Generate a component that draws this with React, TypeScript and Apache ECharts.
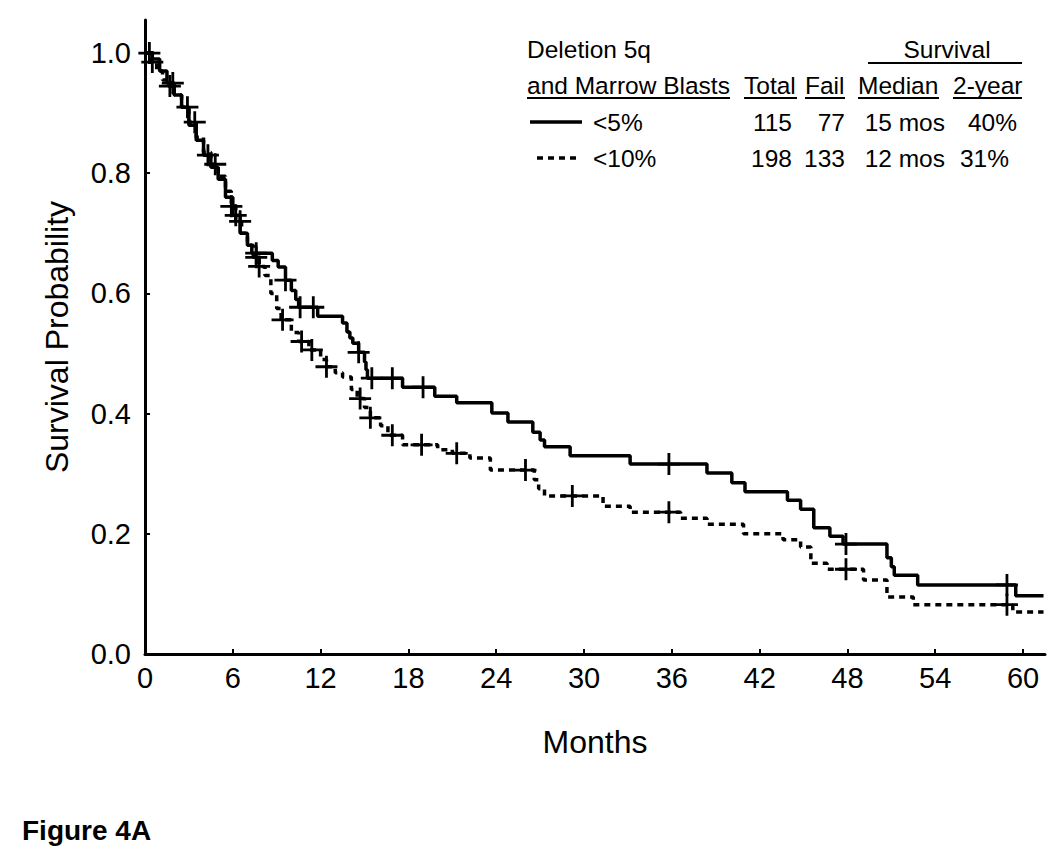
import React, { useEffect, useRef } from "react";
import * as echarts from "echarts";

// ---- Data ----
const xTicks = [0, 6, 12, 18, 24, 30, 36, 42, 48, 54, 60];
const yTicks = [0, 0.2, 0.4, 0.6, 0.8, 1.0];

// Kaplan-Meier curve, deletion 5q and marrow blasts <5% (solid)
const solidT = [0, 0.5, 1.0, 1.5, 2.0, 2.5, 3.0, 3.5, 4.0, 4.5, 5.0, 5.5, 6.0, 6.5, 7.0, 7.3, 8.7, 9.1, 9.6, 10.0, 10.3, 10.5, 11.8, 13.5, 13.8, 14.0, 14.2, 14.6, 15.0, 15.1, 15.2, 17.6, 19.8, 21.3, 23.7, 24.8, 26.5, 27.0, 27.3, 29.05, 33.15, 38.4, 40.1, 41.0, 43.9, 44.8, 45.7, 46.8, 47.7, 50.7, 51.0, 51.2, 52.8, 59.5, 61.4];
const solidS = [1.0, 0.99, 0.97, 0.95, 0.93, 0.91, 0.88, 0.855, 0.83, 0.81, 0.79, 0.76, 0.73, 0.70, 0.68, 0.667, 0.655, 0.644, 0.622, 0.605, 0.59, 0.577, 0.562, 0.551, 0.536, 0.526, 0.517, 0.502, 0.486, 0.473, 0.459, 0.444, 0.429, 0.418, 0.401, 0.386, 0.369, 0.356, 0.345, 0.33, 0.316, 0.301, 0.285, 0.27, 0.256, 0.241, 0.21, 0.196, 0.183, 0.16, 0.145, 0.131, 0.115, 0.097, 0.097];
const solidCensored = [0.3, 1.9, 4.3, 6.2, 7.6, 9.6, 10.6, 11.5, 14.6, 15.5, 16.9, 19.0, 35.8, 47.9, 58.9];

// Kaplan-Meier curve, deletion 5q and marrow blasts <10% (dotted)
const dottedT = [0, 0.4, 0.8, 1.2, 1.6, 2.0, 2.5, 3.0, 3.5, 4.0, 4.5, 5.0, 5.5, 5.9, 6.2, 6.6, 7.0, 7.4, 7.8, 8.2, 8.6, 9.0, 9.3, 10.0, 10.5, 11.2, 12.0, 12.4, 13.0, 13.5, 14.1, 14.5, 15.0, 15.4, 16.1, 16.6, 17.6, 20.0, 21.0, 22.2, 23.6, 26.6, 26.9, 27.3, 31.3, 33.15, 36.6, 38.4, 40.9, 43.6, 44.8, 45.5, 46.6, 49.1, 50.7, 52.5, 59.3, 61.4];
const dottedS = [1.0, 0.985, 0.97, 0.955, 0.945, 0.93, 0.91, 0.885, 0.86, 0.835, 0.815, 0.795, 0.77, 0.745, 0.72, 0.70, 0.68, 0.66, 0.645, 0.63, 0.60, 0.575, 0.556, 0.535, 0.52, 0.506, 0.49, 0.478, 0.468, 0.461, 0.44, 0.425, 0.41, 0.393, 0.38, 0.364, 0.348, 0.34, 0.334, 0.326, 0.306, 0.29, 0.275, 0.263, 0.246, 0.236, 0.226, 0.216, 0.2, 0.19, 0.178, 0.151, 0.141, 0.123, 0.095, 0.082, 0.07, 0.07];
const dottedCensored = [0.5, 1.7, 2.9, 3.4, 4.8, 5.9, 6.5, 7.6, 7.8, 9.4, 10.7, 11.4, 12.4, 14.7, 15.4, 16.9, 18.9, 21.3, 26.0, 29.2, 35.8, 47.9, 58.9];

// Legend table
const groupLabels = ["<5%", "<10%"];
const totals = ["115", "198"];
const fails = ["77", "133"];
const medians = ["15 mos", "12 mos"];
const twoYear = ["40%", "31%"];

const FONT = "'Liberation Sans', Arial, Helvetica, sans-serif";
const CROSS = "path://M9.6,0H12.4V9.6H22V12.4H12.4V22H9.6V12.4H0V9.6H9.6Z";

function stepValue(T: number[], S: number[], t: number) {
  let v = S[0];
  for (let i = 0; i < T.length; i++) {
    if (T[i] <= t) v = S[i];
  }
  return v;
}

export default function App() {
  const ref = useRef<HTMLDivElement>(null);

  useEffect(() => {
    if (!ref.current) return;
    const chart = echarts.init(ref.current, undefined, { renderer: "svg" });

    const txt = (text: string, x: number, y: number, align: string, extra: any = {}) => ({
      type: "text",
      x,
      y,
      style: {
        text,
        font: `24.5px ${FONT}`,
        fill: "#000",
        textAlign: align,
        align,
        textVerticalAlign: "middle",
        verticalAlign: "middle",
        ...extra,
      },
    });
    const hline = (x1: number, x2: number, y: number, w = 2, dash: any = null) => ({
      type: "line",
      shape: { x1, y1: y, x2, y2: y },
      style: { stroke: "#000", lineWidth: w, lineDash: dash },
    });

    const rowY = [122, 158];
    const graphic: any[] = [
      txt("Deletion 5q", 527, 49, "left"),
      txt("Survival", 947, 49, "center"),
      hline(868, 1022, 63),
      txt("and Marrow Blasts", 527, 85, "left"),
      txt("Total", 744, 85, "left"),
      txt("Fail", 805, 85, "left"),
      txt("Median", 858, 85, "left"),
      txt("2-year", 953, 85, "left"),
      hline(527, 730, 98),
      hline(744, 797, 98),
      hline(805, 845, 98),
      hline(858, 939, 98),
      hline(953, 1022, 98),
      hline(530, 582, rowY[0], 3.5),
      hline(537, 581, rowY[1], 3.5, [6, 5]),
      {
        type: "text",
        x: 22,
        y: 830,
        style: {
          text: "Figure 4A",
          font: `bold 28px ${FONT}`,
          fill: "#000",
          textAlign: "left",
          align: "left",
          textVerticalAlign: "middle",
          verticalAlign: "middle",
        },
      },
    ];
    const pctRight = [1017, 1009];
    for (let i = 0; i < 2; i++) {
      graphic.push(txt(groupLabels[i], 593, rowY[i], "left"));
      graphic.push(txt(totals[i], 792, rowY[i], "right"));
      graphic.push(txt(fails[i], 845, rowY[i], "right"));
      graphic.push(txt(medians[i], 945, rowY[i], "right"));
      graphic.push(txt(twoYear[i], pctRight[i], rowY[i], "right"));
    }

    const axisText = { color: "#000", fontSize: 29, fontFamily: FONT };

    chart.setOption({
      animation: false,
      backgroundColor: "#fff",
      grid: { left: 145, right: 5, top: 20, bottom: 194 },
      xAxis: {
        type: "value",
        min: 0,
        max: 61.5,
        name: "Months",
        nameLocation: "middle",
        nameGap: 72,
        nameTextStyle: { color: "#000", fontSize: 32, fontFamily: FONT },
        axisLine: { lineStyle: { color: "#000", width: 3 } },
        axisTick: { inside: true, length: 5, lineStyle: { color: "#000", width: 2 }, customValues: xTicks },
        axisLabel: { ...axisText, margin: 9, customValues: xTicks },
        splitLine: { show: false },
      },
      yAxis: {
        type: "value",
        min: 0,
        max: 1.055,
        name: "Survival Probability",
        nameLocation: "middle",
        nameRotate: 90,
        nameGap: 72,
        nameTextStyle: { color: "#000", fontSize: 32, fontFamily: FONT },
        axisLine: { lineStyle: { color: "#000", width: 3 } },
        axisTick: { inside: true, length: 5, lineStyle: { color: "#000", width: 2 }, customValues: yTicks },
        axisLabel: { ...axisText, margin: 14, customValues: yTicks, formatter: (v: number) => v.toFixed(1) },
        splitLine: { show: false },
      },
      series: [
        {
          type: "line",
          step: "end",
          symbol: "none",
          data: solidT.map((t, i) => [t, solidS[i]]),
          lineStyle: { color: "#000", width: 3.5 },
        },
        {
          type: "line",
          step: "end",
          symbol: "none",
          data: dottedT.map((t, i) => [t, dottedS[i]]),
          lineStyle: { color: "#000", width: 3.5, type: [6, 5] },
        },
        {
          type: "scatter",
          symbol: CROSS,
          symbolSize: 22,
          data: solidCensored.map((t) => [t, stepValue(solidT, solidS, t)]),
          itemStyle: { color: "#000", opacity: 1 },
        },
        {
          type: "scatter",
          symbol: CROSS,
          symbolSize: 22,
          data: dottedCensored.map((t) => [t, stepValue(dottedT, dottedS, t)]),
          itemStyle: { color: "#000", opacity: 1 },
        },
      ],
      graphic,
    });

    return () => chart.dispose();
  }, []);

  return (
    <div
      ref={ref}
      style={{ position: "fixed", left: 0, top: 0, width: 1050, height: 848, background: "#fff" }}
    />
  );
}
